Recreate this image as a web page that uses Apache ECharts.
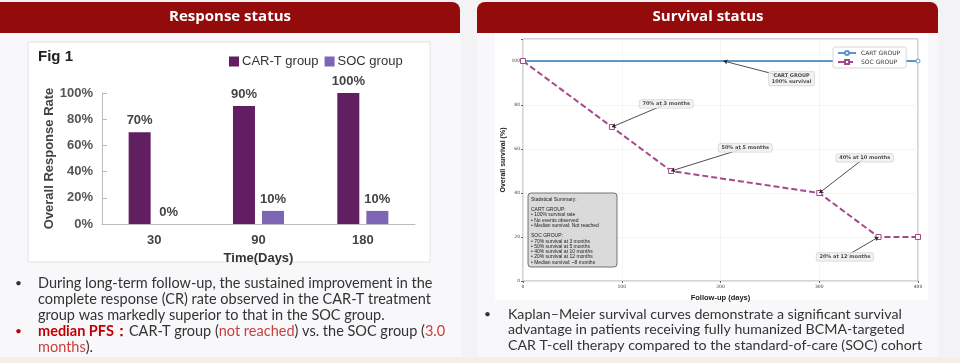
<!DOCTYPE html>
<html>
<head>
<meta charset="utf-8">
<script src="https://cdn.jsdelivr.net/npm/echarts@6/dist/echarts.min.js"></script>
<style>
html,body{margin:0;padding:0;background:#f3f3f5;}
#c{width:960px;height:363px;}
</style>
</head>
<body>
<div id="c"></div>
<script>
// ---- Data: Response status (Fig 1) ----
const barCategories = ['30', '90', '180'];
const cartRates = [70, 90, 100];
const socRates = [0, 10, 10];

// ---- Data: Survival status ----
const cartDays = [0, 400];
const cartSurvival = [100, 100];
const socDays = [0, 90, 150, 300, 360, 400];
const socSurvival = [100, 70, 50, 40, 20, 20];

// annotation texts, the points they mark, and where their boxes sit (data units)
const annotTexts = ['CART GROUP\n100% survival', '70% at 3 months', '50% at 5 months', '40% at 10 months', '20% at 12 months'];
const annotTargets = [[203, 100], [90, 70], [150, 50], [300, 40], [360, 20]];
const annotBoxes = [[272, 92], [145, 80.5], [225, 60.5], [346, 56], [326, 11]];

const summaryLines = [
  'Statistical Summary:', '',
  'CART GROUP:', '• 100% survival rate', '• No events observed', '• Median survival: Not reached', '',
  'SOC GROUP:', '• 70% survival at 3 months', '• 50% survival at 5 months', '• 40% survival at 10 months',
  '• 20% survival at 12 months', '• Median survival: ~8 months'
];

const leftTextLines = [
  'During long-term follow-up, the sustained improvement in the',
  'complete response (CR) rate observed in the CAR-T treatment',
  'group was markedly superior to that in the SOC group.'
];
const rightTextLines = [
  'Kaplan–Meier survival curves demonstrate a significant survival',
  'advantage in patients receiving fully humanized BCMA-targeted',
  'CAR T-cell therapy compared to the standard-of-care (SOC) cohort'
];

const RED = '#940b0c';
const BODY_FONT = 'Lato';
const CHART_FONT = 'Liberation Sans';
const MPL_FONT = 'DejaVu Sans';

const chart = echarts.init(document.getElementById('c'), null, {renderer: 'canvas'});

const textEls = [];
leftTextLines.forEach((t, i) => {
  textEls.push({type: 'text', x: 38, y: 283 + i * 16, style: {text: t, font: '14.5px ' + BODY_FONT, fill: '#333', verticalAlign: 'middle'}});
});
textEls.push({type: 'text', x: 15, y: 283, style: {text: '•', font: '12px ' + BODY_FONT, fill: '#333', verticalAlign: 'middle'}});
textEls.push({type: 'text', x: 15, y: 331, style: {text: '•', font: '12px ' + BODY_FONT, fill: '#c00000', verticalAlign: 'middle'}});
textEls.push({type: 'text', x: 38, y: 331, style: {
  text: '{b|median PFS：}{n|CAR-T group (}{r|not reached}{n|) vs. the SOC group (}{r|3.0}',
  verticalAlign: 'middle',
  rich: {
    b: {font: 'bold 14.5px ' + BODY_FONT, fill: '#c00000'},
    n: {font: '14.5px ' + BODY_FONT, fill: '#333'},
    r: {font: '14.5px ' + BODY_FONT, fill: '#c8403c'}
  }
}});
textEls.push({type: 'text', x: 38, y: 347, style: {
  text: '{r|months}{n|).}', verticalAlign: 'middle',
  rich: {n: {font: '14.5px ' + BODY_FONT, fill: '#333'}, r: {font: '14.5px ' + BODY_FONT, fill: '#c8403c'}}
}});
rightTextLines.forEach((t, i) => {
  textEls.push({type: 'text', x: 508, y: 314 + i * 15.5, style: {text: t, font: '14.2px ' + BODY_FONT, fill: '#333', verticalAlign: 'middle'}});
});
textEls.push({type: 'text', x: 484, y: 314, style: {text: '•', font: '12px ' + BODY_FONT, fill: '#333', verticalAlign: 'middle'}});

const option = {
  animation: false,
  backgroundColor: '#f3f3f5',
  graphic: [
    {type: 'rect', z: -10, shape: {x: 0, y: 33, width: 462, height: 324}, style: {fill: '#f8f8fa'}},
    {type: 'rect', z: -10, shape: {x: 477, y: 33, width: 461, height: 324}, style: {fill: '#f8f8fa'}},
    {type: 'rect', z: -10, shape: {x: 0, y: 357, width: 960, height: 6}, style: {fill: '#f3eee8'}},
    {type: 'rect', z: -5, shape: {x: -10, y: 2, width: 470, height: 31, r: [8, 8, 0, 0]}, style: {fill: RED}},
    {type: 'rect', z: -5, shape: {x: 477, y: 2, width: 461, height: 31, r: [8, 8, 0, 0]}, style: {fill: RED}},
    {type: 'text', x: 230, y: 17, style: {text: 'Response status', font: 'bold 15px "Open Sans"', fill: '#fff', align: 'center', verticalAlign: 'middle'}},
    {type: 'text', x: 708, y: 17, style: {text: 'Survival status', font: 'bold 15px "Open Sans"', fill: '#fff', align: 'center', verticalAlign: 'middle'}},
    // chart boxes
    {type: 'rect', z: -5, shape: {x: 28, y: 42, width: 402, height: 220}, style: {fill: '#fff', stroke: '#e2e2e2', lineWidth: 1}},
    {type: 'rect', z: -5, shape: {x: 495, y: 33, width: 433, height: 267}, style: {fill: '#fff'}},
    {type: 'text', x: 38, y: 57, style: {text: 'Fig 1', font: 'bold 15px ' + CHART_FONT, fill: '#222', verticalAlign: 'middle'}},
    // statistical summary box
    {type: 'rect', z: 20, shape: {x: 528, y: 193, width: 89, height: 74, r: 3}, style: {fill: '#dadada', stroke: '#555', lineWidth: 0.8}},
    {type: 'text', z: 21, x: 531, y: 196.5, style: {text: summaryLines.join('\n'), font: '5px ' + CHART_FONT, lineHeight: 5.25, fill: '#222'}}
  ].concat(textEls),
  legend: [
    {
      data: ['CAR-T group', 'SOC group'],
      left: 224, top: 50, icon: 'rect', itemWidth: 10, itemHeight: 10, itemGap: 6,
      textStyle: {fontFamily: CHART_FONT, fontSize: 13, color: '#333', padding: [0, 0, 0, -2]}
    },
    {
      data: ['CART GROUP', 'SOC GROUP'],
      left: 833, top: 47, orient: 'vertical', itemWidth: 18, itemHeight: 5, itemGap: 3,
      padding: [3, 6, 3, 4], backgroundColor: '#fff', borderColor: '#ccc', borderWidth: 0.8, borderRadius: 2,
      textStyle: {fontFamily: MPL_FONT, fontSize: 6, color: '#333'}
    }
  ],
  grid: [
    {left: 102, right: 545, top: 93, bottom: 139, containLabel: false},
    {left: 523, right: 42, top: 39, bottom: 82, containLabel: false, show: true, borderColor: '#aaa', borderWidth: 1, backgroundColor: 'transparent'}
  ],
  xAxis: [
    {
      gridIndex: 0, type: 'category', data: barCategories,
      axisLine: {lineStyle: {color: '#bbb'}}, axisTick: {show: false},
      axisLabel: {fontFamily: CHART_FONT, fontSize: 13, color: '#444', fontWeight: 'bold', margin: 10},
      name: 'Time(Days)', nameLocation: 'middle', nameGap: 28,
      nameTextStyle: {fontFamily: CHART_FONT, fontSize: 13, fontWeight: 'bold', color: '#333'}
    },
    {
      gridIndex: 1, type: 'value', min: 0, max: 400, interval: 100,
      axisLine: {show: false}, axisTick: {show: true, length: 2, lineStyle: {color: '#666'}},
      splitLine: {show: true, lineStyle: {color: '#efefef', width: 0.6}},
      axisLabel: {fontFamily: MPL_FONT, fontSize: 4.5, color: '#444', margin: 3},
      name: 'Follow-up (days)', nameLocation: 'middle', nameGap: 13,
      nameTextStyle: {fontFamily: CHART_FONT, fontSize: 7.5, fontWeight: 'bold', color: '#222'}
    }
  ],
  yAxis: [
    {
      gridIndex: 0, type: 'value', min: 0, max: 100, interval: 20,
      axisLine: {show: true, lineStyle: {color: '#bbb'}}, axisTick: {show: true, inside: true, length: 5, lineStyle: {color: '#bbb'}},
      splitLine: {show: false},
      axisLabel: {fontFamily: CHART_FONT, fontSize: 13, color: '#555', fontWeight: 'bold', formatter: '{value}%', margin: 9},
      name: 'Overall Response Rate', nameLocation: 'middle', nameGap: 43,
      nameTextStyle: {fontFamily: CHART_FONT, fontSize: 13, fontWeight: 'bold', color: '#444'}
    },
    {
      gridIndex: 1, type: 'value', min: 0, max: 110, interval: 20,
      axisLine: {show: false}, axisTick: {show: true, length: 2, lineStyle: {color: '#666'}},
      splitLine: {show: true, lineStyle: {color: '#efefef', width: 0.6}},
      axisLabel: {fontFamily: MPL_FONT, fontSize: 4.5, color: '#444', margin: 3, formatter: v => (v > 100 ? '' : v)},
      name: 'Overall survival (%)', nameLocation: 'middle', nameGap: 16,
      nameTextStyle: {fontFamily: CHART_FONT, fontSize: 7, fontWeight: 'bold', color: '#222'}
    }
  ],
  series: [
    {
      name: 'CAR-T group', type: 'bar', xAxisIndex: 0, yAxisIndex: 0, data: cartRates,
      barWidth: 22, barGap: '32%', itemStyle: {color: '#611e60'},
      label: {show: true, position: 'top', distance: 5, formatter: '{c}%', fontFamily: CHART_FONT, fontSize: 13, fontWeight: 'bold', color: '#444'}
    },
    {
      name: 'SOC group', type: 'bar', xAxisIndex: 0, yAxisIndex: 0, data: socRates,
      barWidth: 22, barGap: '32%', itemStyle: {color: '#7e64b4'},
      label: {show: true, position: 'top', distance: 5, formatter: '{c}%', fontFamily: CHART_FONT, fontSize: 13, fontWeight: 'bold', color: '#444'}
    },
    {
      name: 'CART GROUP', type: 'line', xAxisIndex: 1, yAxisIndex: 1,
      data: cartDays.map((d, i) => [d, cartSurvival[i]]),
      symbol: 'circle', symbolSize: 4, showAllSymbol: true,
      lineStyle: {color: '#5b97c9', width: 1.8},
      itemStyle: {color: '#fff', borderColor: '#5b97c9', borderWidth: 1}
    },
    {
      name: 'SOC GROUP', type: 'line', xAxisIndex: 1, yAxisIndex: 1,
      data: socDays.map((d, i) => [d, socSurvival[i]]),
      symbol: 'rect', symbolSize: 5, showAllSymbol: true,
      lineStyle: {color: '#a5488c', width: 2, type: [6, 3]},
      itemStyle: {color: '#fff', borderColor: '#a5488c', borderWidth: 1}
    },
    {
      type: 'lines', coordinateSystem: 'cartesian2d', xAxisIndex: 1, yAxisIndex: 1, z: 5,
      symbol: ['none', 'arrow'], symbolSize: 4,
      lineStyle: {color: '#222', width: 0.8, opacity: 1},
      data: annotTargets.map((t, i) => ({coords: [annotBoxes[i], t]}))
    },
    {
      type: 'scatter', xAxisIndex: 1, yAxisIndex: 1, z: 10, symbolSize: 0, silent: true,
      data: annotBoxes.map((b, i) => ({value: b, name: annotTexts[i]})),
      label: {
        show: true, position: 'inside', formatter: p => p.name,
        fontFamily: MPL_FONT, fontSize: 5, fontWeight: 'bold', color: '#222', lineHeight: 6, align: 'center',
        backgroundColor: '#efefef', borderColor: '#ccc', borderWidth: 0.6, borderRadius: 2, padding: [1, 3]
      }
    }
  ]
};
chart.setOption(option);
</script>
</body>
</html>
